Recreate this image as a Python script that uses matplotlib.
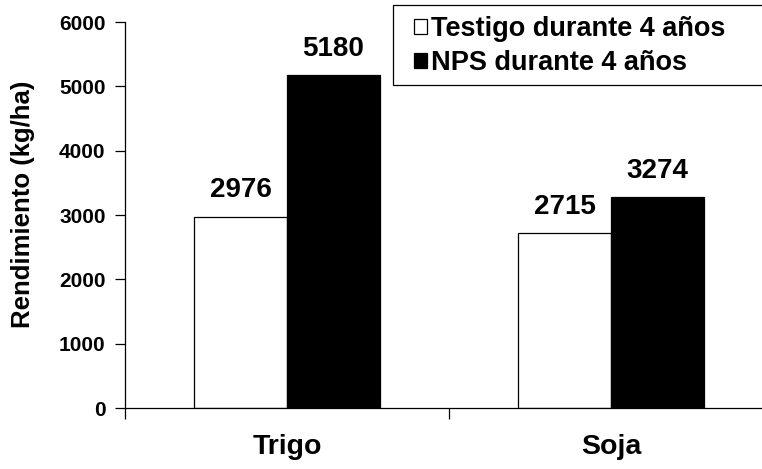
import numpy as np
import matplotlib.pyplot as plt
from matplotlib.patches import Rectangle
from matplotlib.ticker import FixedLocator, NullFormatter

plt.rcParams['font.family'] = ['Liberation Sans', 'DejaVu Sans']
plt.rcParams['font.weight'] = 'bold'

# data
categories = ['Trigo', 'Soja']
testigo = [2976, 2715]
nps = [5180, 3274]
series_labels = ['Testigo durante 4 años', 'NPS durante 4 años']
yticks = [0, 1000, 2000, 3000, 4000, 5000, 6000]

W, H = 762, 469
fig = plt.figure(figsize=(W / 100, H / 100), dpi=100)
ax = fig.add_axes([125 / W, 1 - 408 / H, 1 - 125 / W, (408 - 22) / H])

centers = np.arange(len(categories)) + 0.5
width = 0.287

b1 = ax.bar(centers - width / 2, testigo, width, color='white', edgecolor='black',
            linewidth=0.9, label=series_labels[0])
b2 = ax.bar(centers + width / 2, nps, width, color='black', edgecolor='black',
            linewidth=0.9, label=series_labels[1])

for bars, vals in [(b1, testigo), (b2, nps)]:
    for rect, v in zip(bars, vals):
        ax.annotate(f'{v}', (rect.get_x() + rect.get_width() / 2, v),
                    xytext=(0, 9.5), textcoords='offset points',
                    ha='center', va='bottom', fontsize=20, fontweight='bold')

ax.set_ylim(0, 6000)
ax.set_xlim(0, (W - 125) / 324)
ax.set_yticks(yticks)
ax.tick_params(axis='y', direction='out', length=7, width=0.9, pad=7, labelsize=15)

# category boundaries carry the tick marks, names sit at the centres
ax.xaxis.set_major_locator(FixedLocator([0, 1, 2]))
ax.xaxis.set_major_formatter(NullFormatter())
ax.xaxis.set_minor_locator(FixedLocator(centers))
ax.set_xticklabels(categories, minor=True)
ax.tick_params(axis='x', which='major', direction='out', length=8, width=0.9)
ax.tick_params(axis='x', which='minor', length=0, pad=19, labelsize=20.5)

ax.set_ylabel('Rendimiento (kg/ha)', fontsize=18.5, fontweight='bold')
ax.yaxis.set_label_coords(-0.141, 0.528)

for side in ['top', 'right']:
    ax.spines[side].set_visible(False)
for side in ['left', 'bottom']:
    ax.spines[side].set_linewidth(0.9)

# legend frame runs past the right edge of the picture
fig.add_artist(Rectangle((393 / W, 1 - 85 / H), 0.6, 80 / H, transform=fig.transFigure,
                         facecolor='white', edgecolor='black', linewidth=0.9, zorder=4))

fs = 19.5
leg = fig.legend(handles=[b1, b2], loc='upper left',
                 bbox_to_anchor=((414 - 0.3 * fs * 100 / 72) / W, 1 - 8 / H),
                 borderaxespad=0, frameon=False,
                 prop={'size': fs, 'weight': 'bold'},
                 handlelength=0.48, handleheight=0.48, handletextpad=0.15,
                 borderpad=0.3, labelspacing=0.28)
leg.set_zorder(5)

fig.savefig('out.png', dpi=100)
